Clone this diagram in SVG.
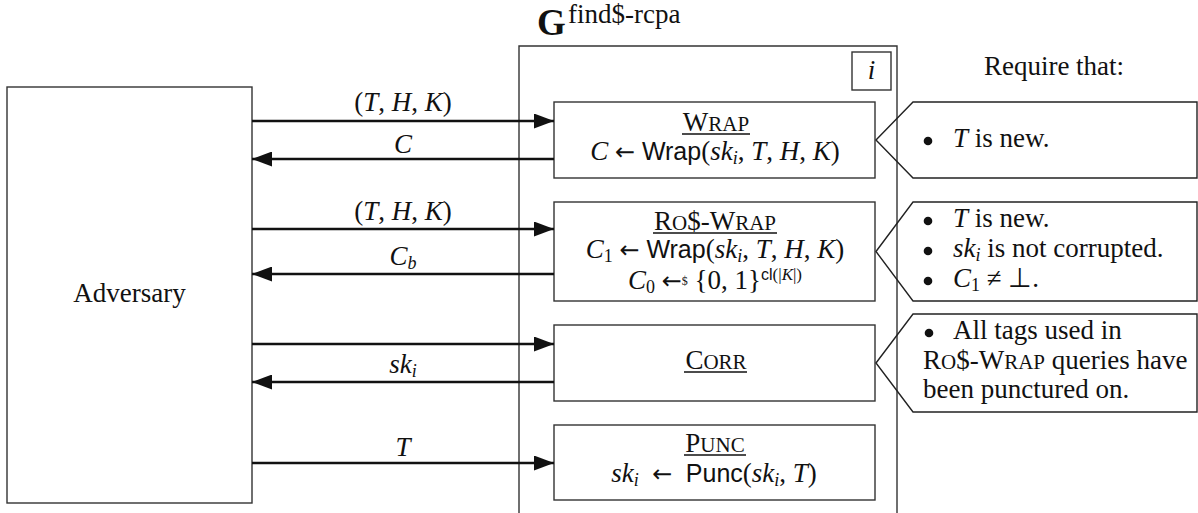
<svg xmlns="http://www.w3.org/2000/svg" width="1198" height="513" viewBox="0 0 1198 513">
<style>
text { font-family: "Liberation Serif", "Times New Roman", serif; font-size: 27px; fill: #111; }
.it { font-style: italic; }
.sf { font-family: "Liberation Sans", Arial, sans-serif; font-size: 25px; }
.sub { font-size: 18px; font-style: italic; }
.num { font-size: 18px; }
.sc { font-size: 21px; }
.ar { font-family: "DejaVu Sans", sans-serif; font-size: 24px; }
.box { fill: #fff; stroke: #333; stroke-width: 1.4; }
.frame { fill: none; stroke: #333; stroke-width: 1.4; }
.call { fill: none; stroke: #222; stroke-width: 1.4; }
.edge { stroke: #111; stroke-width: 2.6; fill: none; }
.uline { stroke: #111; stroke-width: 1.3; }
</style>
<defs>
<marker id="ah" viewBox="0 0 20 15" refX="20" refY="7.5" markerWidth="20" markerHeight="15" markerUnits="userSpaceOnUse" orient="auto">
<path d="M0,0 L20,7.5 L0,15 Z" fill="#111"/>
</marker>
</defs>

<g id="title">
<text x="537" y="35" style="font-size:37px;font-weight:bold">G</text>
<text x="568" y="23" style="font-size:27px">find$-rcpa</text>
</g>

<g id="game-frame">
<path class="frame" d="M519,520 L519,46 L897,46 L897,520"/>
<rect class="box" x="852" y="52" width="39" height="38"/>
<text x="871.5" y="79" text-anchor="middle" class="it">i</text>
</g>

<g id="adversary">
<rect class="box" x="7" y="87" width="245" height="416"/>
<text x="129.5" y="302" text-anchor="middle">Adversary</text>
</g>

<g id="require-label">
<text x="1054" y="75" text-anchor="middle">Require that:</text>
</g>

<g id="wrap">
<rect class="box" x="554" y="102" width="321" height="76"/>
<text x="716" y="131" text-anchor="middle">W<tspan class="sc">RAP</tspan></text>
<line class="uline" x1="682" y1="134" x2="750" y2="134"/>
<text x="715" y="160" text-anchor="middle"><tspan class="it">C</tspan> <tspan class="ar">←</tspan> <tspan class="sf">Wrap</tspan>(<tspan class="it">sk</tspan><tspan class="sub" dy="4">i</tspan><tspan dy="-4">, </tspan><tspan class="it">T</tspan>, <tspan class="it">H</tspan>, <tspan class="it">K</tspan>)</text>
</g>

<g id="ros-wrap">
<rect class="box" x="554" y="202" width="321" height="99"/>
<text x="715" y="230" text-anchor="middle">R<tspan class="sc">O</tspan>$-W<tspan class="sc">RAP</tspan></text>
<line class="uline" x1="653" y1="233" x2="777" y2="233"/>
<text x="715" y="258" text-anchor="middle"><tspan class="it">C</tspan><tspan class="num" dy="4">1</tspan><tspan dy="-4"> </tspan><tspan class="ar">←</tspan> <tspan class="sf">Wrap</tspan>(<tspan class="it">sk</tspan><tspan class="sub" dy="4">i</tspan><tspan dy="-4">, </tspan><tspan class="it">T</tspan>, <tspan class="it">H</tspan>, <tspan class="it">K</tspan>)</text>
<text x="715" y="289" text-anchor="middle"><tspan class="it">C</tspan><tspan class="num" dy="4">0</tspan><tspan dy="-4"> </tspan><tspan class="ar">←</tspan><tspan style="font-size:12px" dy="-4">$</tspan><tspan dy="4"> {0, 1}</tspan><tspan style="font-size:17px" dy="-9"><tspan class="sf" style="font-size:16px">cl</tspan>(|<tspan class="it">K</tspan>|)</tspan></text>
</g>

<g id="corr">
<rect class="box" x="554" y="325" width="321" height="76"/>
<text x="716" y="369" text-anchor="middle">C<tspan class="sc">ORR</tspan></text>
<line class="uline" x1="684" y1="372" x2="747" y2="372"/>
</g>

<g id="punc">
<rect class="box" x="554" y="425" width="321" height="75"/>
<text x="715" y="452" text-anchor="middle">P<tspan class="sc">UNC</tspan></text>
<line class="uline" x1="684" y1="455" x2="746" y2="455"/>
<text x="714" y="482" text-anchor="middle"><tspan class="it">sk</tspan><tspan class="sub" dy="4">i</tspan><tspan dy="-4">&#160;&#160;</tspan><tspan class="ar">←</tspan>&#160;&#160;<tspan class="sf">Punc</tspan>(<tspan class="it">sk</tspan><tspan class="sub" dy="4">i</tspan><tspan dy="-4">, </tspan><tspan class="it">T</tspan>)</text>
</g>

<g id="req-wrap">
<path class="call" d="M876,140 L913,102 L1197,102 L1197,178 L913,178 Z"/>
<circle cx="928" cy="141" r="4.3" fill="#111"/>
<text x="953" y="147"><tspan class="it">T</tspan> is new.</text>
</g>

<g id="req-ros-wrap">
<path class="call" d="M876,251.5 L913,202 L1197,202 L1197,301 L913,301 Z"/>
<circle cx="928" cy="221" r="4.3" fill="#111"/>
<text x="953" y="227"><tspan class="it">T</tspan> is new.</text>
<circle cx="928" cy="251" r="4.3" fill="#111"/>
<text x="953" y="257"><tspan class="it">sk</tspan><tspan class="sub" dy="4">i</tspan><tspan dy="-4"> is not corrupted.</tspan></text>
<circle cx="928" cy="281" r="4.3" fill="#111"/>
<text x="953" y="287"><tspan class="it">C</tspan><tspan class="num" dy="4">1</tspan><tspan dy="-4"> ≠ ⊥.</tspan></text>
</g>

<g id="req-corr">
<path class="call" d="M876,363 L913,314 L1197,314 L1197,412 L913,412 Z"/>
<circle cx="929" cy="333" r="4.3" fill="#111"/>
<text x="953" y="339">All tags used in</text>
<text x="923" y="369">R<tspan class="sc">O</tspan>$-W<tspan class="sc">RAP</tspan> queries have</text>
<text x="923" y="398">been punctured on.</text>
</g>

<g id="connectors">
<line class="edge" x1="252" y1="121" x2="554" y2="121" marker-end="url(#ah)"/>
<line class="edge" x1="554" y1="159" x2="252" y2="159" marker-end="url(#ah)"/>
<line class="edge" x1="252" y1="229" x2="554" y2="229" marker-end="url(#ah)"/>
<line class="edge" x1="554" y1="274" x2="252" y2="274" marker-end="url(#ah)"/>
<line class="edge" x1="252" y1="344" x2="554" y2="344" marker-end="url(#ah)"/>
<line class="edge" x1="554" y1="382" x2="252" y2="382" marker-end="url(#ah)"/>
<line class="edge" x1="252" y1="463" x2="554" y2="463" marker-end="url(#ah)"/>
<text x="403" y="111" text-anchor="middle">(<tspan class="it">T</tspan>, <tspan class="it">H</tspan>, <tspan class="it">K</tspan>)</text>
<text x="403" y="153" text-anchor="middle" class="it">C</text>
<text x="403" y="220" text-anchor="middle">(<tspan class="it">T</tspan>, <tspan class="it">H</tspan>, <tspan class="it">K</tspan>)</text>
<text x="403" y="265" text-anchor="middle"><tspan class="it">C</tspan><tspan class="sub" dy="4">b</tspan></text>
<text x="403" y="373" text-anchor="middle"><tspan class="it">sk</tspan><tspan class="sub" dy="4">i</tspan></text>
<text x="403" y="456" text-anchor="middle" class="it">T</text>
</g>
</svg>
